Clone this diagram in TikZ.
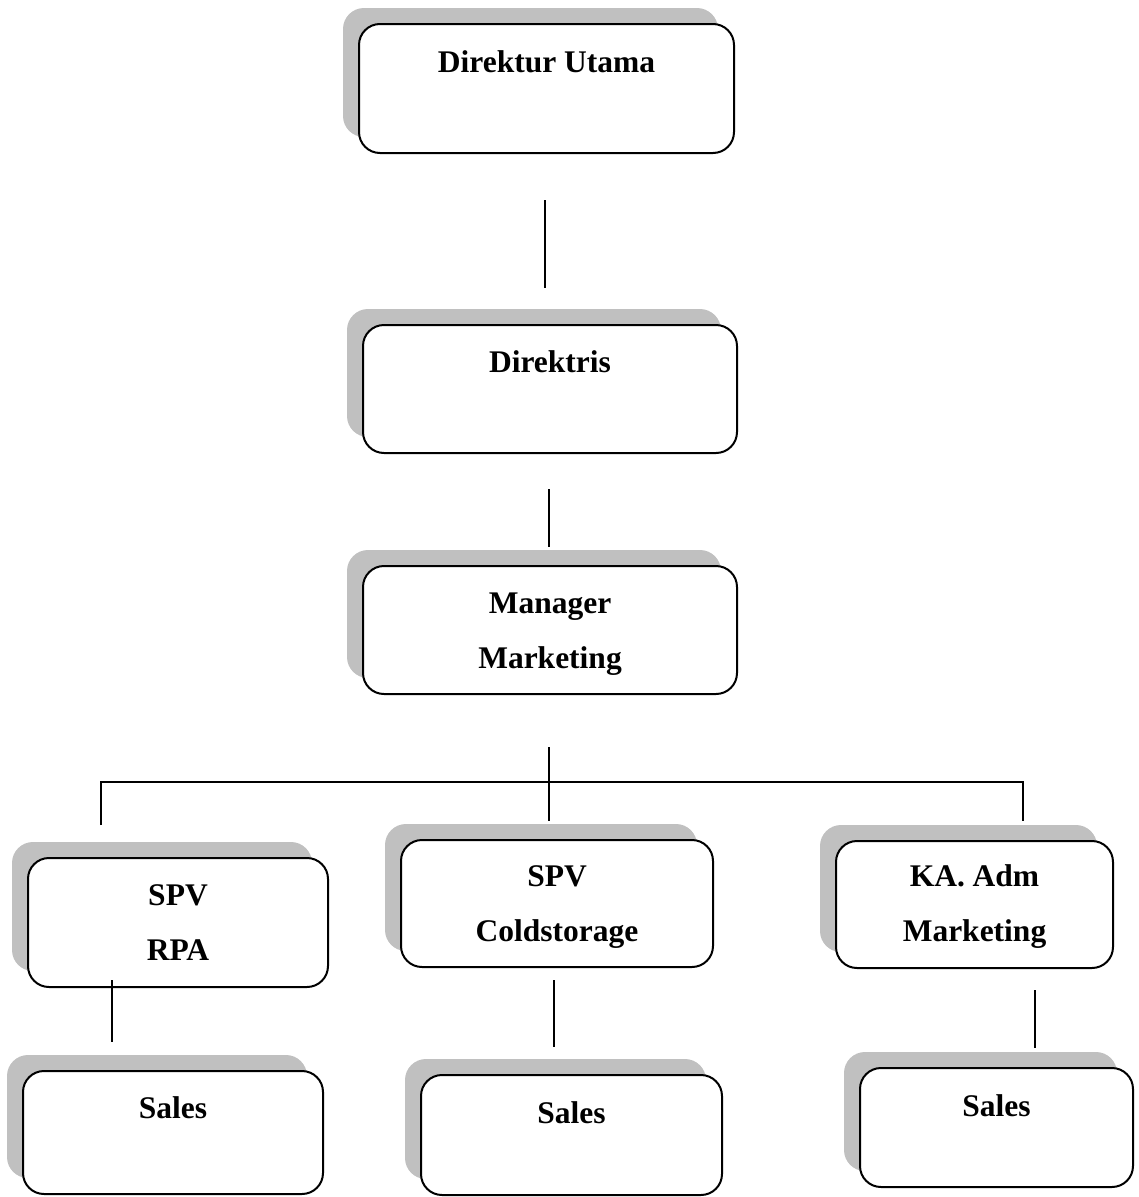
\documentclass[tikz,border=0pt]{standalone}
\usepackage{fontspec}
\setmainfont{Liberation Serif}
\usetikzlibrary{shadows}
\definecolor{shadowgray}{HTML}{C0C0C0}
\tikzset{
  orgbox/.style={draw=black, line width=2pt, fill=white, rounded corners=21pt,
    inner sep=0pt,
    drop shadow={shadow xshift=-16pt, shadow yshift=16pt, fill=shadowgray, opacity=1}},
  orgtext/.style={anchor=base, inner sep=0pt, align=center,
    font=\fontsize{31.5}{55}\selectfont\bfseries},
  link/.style={draw=black, line width=1.5pt}
}
\begin{document}
\begin{tikzpicture}[x=1pt, y=-1pt]
\useasboundingbox (0,0) rectangle (1139,1197);
% boxes
\node[orgbox, minimum width=375pt, minimum height=129pt] (du) at (546.5,88.5) {};
\node[orgbox, minimum width=374pt, minimum height=128pt] (dr) at (550,389) {};
\node[orgbox, minimum width=374pt, minimum height=128pt] (mm) at (550,630) {};
\node[orgbox, minimum width=300pt, minimum height=129pt] (rpa) at (178,922.5) {};
\node[orgbox, minimum width=312pt, minimum height=127pt] (cold) at (557,903.5) {};
\node[orgbox, minimum width=277pt, minimum height=127pt] (ka) at (974.5,904.5) {};
\node[orgbox, minimum width=300pt, minimum height=123pt] (s1) at (173,1132.5) {};
\node[orgbox, minimum width=301pt, minimum height=120pt] (s2) at (571.5,1135) {};
\node[orgbox, minimum width=273pt, minimum height=119pt] (s3) at (996.5,1127.5) {};
% texts (anchor base = baseline of the last line)
\node[orgtext] (du-t) at (546.5,72) {Direktur Utama};
\node[orgtext] (dr-t) at (550,372) {Direktris};
\node[orgtext] (mm-t) at (550,668) {Manager\\Marketing};
\node[orgtext] (rpa-t) at (178,960) {SPV\\RPA};
\node[orgtext] (cold-t) at (557,941) {SPV\\Coldstorage};
\node[orgtext] (ka-t) at (974.5,941) {KA. Adm\\Marketing};
\node[orgtext] (s1-t) at (173,1118) {Sales};
\node[orgtext] (s2-t) at (571.5,1123) {Sales};
\node[orgtext] (s3-t) at (996.5,1116) {Sales};
% connector ends
\coordinate (c1a) at (545,200);  \coordinate (c1b) at (545,288);
\coordinate (c2a) at (549,489);  \coordinate (c2b) at (549,547);
\coordinate (c3a) at (549,747);  \coordinate (c3b) at (549,821);
\coordinate (busL) at (101,782); \coordinate (busR) at (1023,782);
\coordinate (dropL) at (101,825); \coordinate (dropR) at (1023,821);
\coordinate (c4a) at (112,980);  \coordinate (c4b) at (112,1042);
\coordinate (c5a) at (554,980);  \coordinate (c5b) at (554,1047);
\coordinate (c6a) at (1035,990); \coordinate (c6b) at (1035,1048);
% connectors
\draw[link] (c1a) -- (c1b);
\draw[link] (c2a) -- (c2b);
\draw[link] (c3a) -- (c3b);
\draw[link] (dropL) -- (busL) -- (busR) -- (dropR);
\draw[link] (c4a) -- (c4b);
\draw[link] (c5a) -- (c5b);
\draw[link] (c6a) -- (c6b);
\end{tikzpicture}
\end{document}
